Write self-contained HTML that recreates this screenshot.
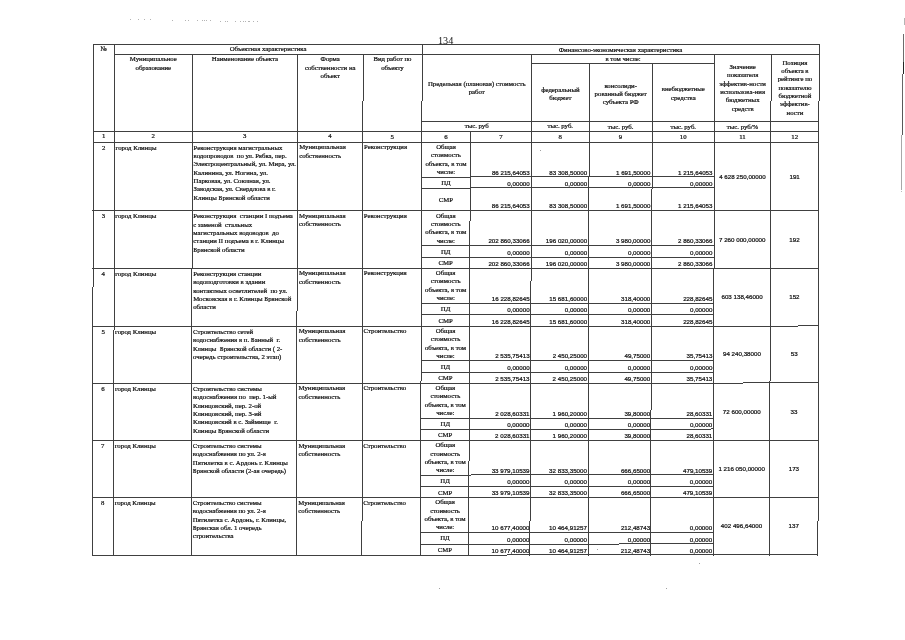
<!DOCTYPE html>
<html lang="ru"><head><meta charset="utf-8"><title>134</title>
<style>
html,body{margin:0;padding:0;background:#fff;}
body{width:905px;height:640px;position:relative;overflow:hidden;}
#w{position:absolute;left:0;top:0;width:905px;height:640px;filter:grayscale(1);}
.l{position:absolute;background:#404040;}
.t{position:absolute;white-space:nowrap;color:#111;-webkit-text-stroke:0.22px #111;line-height:8.35px;}
.s{font-family:"Liberation Serif",serif;font-size:6.78px;}
.n{font-family:"Liberation Sans",sans-serif;font-size:6.2px;line-height:8px;}
#pg{position:absolute;left:438px;top:34.9px;font-family:"Liberation Serif",serif;font-size:10.2px;color:#111;line-height:12px;}
.e{position:absolute;width:1px;}
.d{position:absolute;background:#999;width:1px;height:1px;}
</style></head>
<body>
<div id="w">
<div id="pg">134</div>
<div class="l" style="left:93px;top:44px;width:1px;height:243px"></div>
<div class="l" style="left:92px;top:287px;width:1px;height:269px"></div>
<div class="l" style="left:819px;top:44px;width:1px;height:57px"></div>
<div class="l" style="left:818px;top:101px;width:1px;height:420px"></div>
<div class="l" style="left:817px;top:521px;width:1px;height:35px"></div>
<div class="l" style="left:114px;top:44px;width:1px;height:286px"></div>
<div class="l" style="left:113px;top:330px;width:1px;height:226px"></div>
<div class="l" style="left:192px;top:54px;width:1px;height:215px"></div>
<div class="l" style="left:191px;top:269px;width:1px;height:287px"></div>
<div class="l" style="left:297px;top:54px;width:1px;height:257px"></div>
<div class="l" style="left:296px;top:311px;width:1px;height:245px"></div>
<div class="l" style="left:363px;top:54px;width:1px;height:47px"></div>
<div class="l" style="left:362px;top:101px;width:1px;height:420px"></div>
<div class="l" style="left:361px;top:521px;width:1px;height:35px"></div>
<div class="l" style="left:422px;top:44px;width:1px;height:57px"></div>
<div class="l" style="left:421px;top:101px;width:1px;height:280px"></div>
<div class="l" style="left:420px;top:381px;width:1px;height:175px"></div>
<div class="l" style="left:470px;top:131px;width:1px;height:90px"></div>
<div class="l" style="left:469px;top:221px;width:1px;height:240px"></div>
<div class="l" style="left:468px;top:461px;width:1px;height:95px"></div>
<div class="l" style="left:531px;top:54px;width:1px;height:227px"></div>
<div class="l" style="left:530px;top:281px;width:1px;height:240px"></div>
<div class="l" style="left:529px;top:521px;width:1px;height:35px"></div>
<div class="l" style="left:589px;top:63px;width:1px;height:114px"></div>
<div class="l" style="left:588px;top:177px;width:1px;height:379px"></div>
<div class="l" style="left:652px;top:63px;width:1px;height:126px"></div>
<div class="l" style="left:651px;top:189px;width:1px;height:221px"></div>
<div class="l" style="left:650px;top:410px;width:1px;height:146px"></div>
<div class="l" style="left:714px;top:54px;width:1px;height:215px"></div>
<div class="l" style="left:713px;top:269px;width:1px;height:287px"></div>
<div class="l" style="left:771px;top:54px;width:1px;height:47px"></div>
<div class="l" style="left:770px;top:101px;width:1px;height:280px"></div>
<div class="l" style="left:769px;top:381px;width:1px;height:175px"></div>
<div class="l" style="left:93px;top:44px;width:726px;height:1px"></div>
<div class="l" style="left:114px;top:54px;width:705px;height:1px"></div>
<div class="l" style="left:531px;top:63px;width:184px;height:1px"></div>
<div class="l" style="left:421px;top:121px;width:398px;height:1px"></div>
<div class="l" style="left:93px;top:131px;width:726px;height:1px"></div>
<div class="l" style="left:93px;top:142px;width:726px;height:1px"></div>
<div class="l" style="left:421px;top:177px;width:50px;height:1px"></div>
<div class="l" style="left:471px;top:176px;width:244px;height:1px"></div>
<div class="l" style="left:421px;top:188px;width:50px;height:1px"></div>
<div class="l" style="left:471px;top:187px;width:244px;height:1px"></div>
<div class="l" style="left:92px;top:210px;width:727px;height:1px"></div>
<div class="l" style="left:421px;top:245px;width:293px;height:1px"></div>
<div class="l" style="left:421px;top:257px;width:293px;height:1px"></div>
<div class="l" style="left:92px;top:268px;width:727px;height:1px"></div>
<div class="l" style="left:421px;top:303px;width:293px;height:1px"></div>
<div class="l" style="left:421px;top:314px;width:293px;height:1px"></div>
<div class="l" style="left:92px;top:326px;width:706px;height:1px"></div>
<div class="l" style="left:798px;top:325px;width:21px;height:1px"></div>
<div class="l" style="left:421px;top:360px;width:293px;height:1px"></div>
<div class="l" style="left:421px;top:372px;width:293px;height:1px"></div>
<div class="l" style="left:92px;top:383px;width:651px;height:1px"></div>
<div class="l" style="left:743px;top:382px;width:76px;height:1px"></div>
<div class="l" style="left:421px;top:418px;width:293px;height:1px"></div>
<div class="l" style="left:421px;top:429px;width:290px;height:1px"></div>
<div class="l" style="left:711px;top:428px;width:3px;height:1px"></div>
<div class="l" style="left:92px;top:440px;width:726px;height:1px"></div>
<div class="l" style="left:420px;top:475px;width:51px;height:1px"></div>
<div class="l" style="left:471px;top:474px;width:243px;height:1px"></div>
<div class="l" style="left:420px;top:486px;width:294px;height:1px"></div>
<div class="l" style="left:92px;top:497px;width:726px;height:1px"></div>
<div class="l" style="left:420px;top:532px;width:294px;height:1px"></div>
<div class="l" style="left:420px;top:544px;width:199px;height:1px"></div>
<div class="l" style="left:619px;top:543px;width:95px;height:1px"></div>
<div class="l" style="left:92px;top:555px;width:415px;height:1px"></div>
<div class="l" style="left:507px;top:554px;width:311px;height:1px"></div>
<div class="t s" style="left:93.39px;top:45.43px;width:20.90px;text-align:center;">№</div>
<div class="t s" style="left:114.29px;top:45.43px;width:307.70px;text-align:center;">Объектная характеристика</div>
<div class="t s" style="left:421.99px;top:45.73px;width:397.00px;text-align:center;">Финансово-экономическая характеристика</div>
<div class="t s" style="left:114.26px;top:55.23px;width:78.20px;text-align:center;">Муниципальное<br>образование</div>
<div class="t s" style="left:192.46px;top:55.23px;width:105.00px;text-align:center;">Наименование объекта</div>
<div class="t s" style="left:297.46px;top:55.23px;width:65.50px;text-align:center;">Форма<br>собственности на<br>объект</div>
<div class="t s" style="left:362.96px;top:55.23px;width:59.00px;text-align:center;">Вид работ по<br>объекту</div>
<div class="t s" style="left:421.90px;top:80.15px;width:109.75px;text-align:center;">Предельная (плановая) стоимость<br>работ</div>
<div class="t s" style="left:531.71px;top:54.93px;width:182.75px;text-align:center;">в том числе:</div>
<div class="t s" style="left:531.63px;top:85.65px;width:57.45px;text-align:center;">федеральный<br>бюджет</div>
<div class="t s" style="left:589.09px;top:81.78px;width:63.20px;text-align:center;">консолиди-<br>рованный бюджет<br>субъекта РФ</div>
<div class="t s" style="left:652.28px;top:85.25px;width:62.10px;text-align:center;">внебюджетные<br>средства</div>
<div class="t s" style="left:714.44px;top:63.05px;width:56.50px;text-align:center;">Значение<br>показателя<br>эффектив-ности<br>использова-ния<br>бюджетных<br>средств</div>
<div class="t s" style="left:770.95px;top:58.78px;width:48.00px;text-align:center;">Позиция<br>объекта в<br>рейтинге по<br>показателю<br>бюджетной<br>эффектив-<br>ности</div>
<div class="t s" style="left:421.79px;top:122.22px;width:109.75px;text-align:center;">тыс. руб</div>
<div class="t s" style="left:531.54px;top:122.42px;width:57.45px;text-align:center;">тыс. руб.</div>
<div class="t s" style="left:588.99px;top:122.56px;width:63.20px;text-align:center;">тыс. руб.</div>
<div class="t s" style="left:652.19px;top:122.70px;width:62.10px;text-align:center;">тыс. руб.</div>
<div class="t s" style="left:714.29px;top:122.84px;width:56.50px;text-align:center;">тыс. руб/%</div>
<div class="t s" style="left:93.17px;top:131.87px;width:20.90px;text-align:center;">1</div>
<div class="t s" style="left:114.07px;top:131.98px;width:78.20px;text-align:center;">2</div>
<div class="t s" style="left:192.26px;top:132.19px;width:105.00px;text-align:center;">3</div>
<div class="t s" style="left:297.26px;top:132.39px;width:65.50px;text-align:center;">4</div>
<div class="t s" style="left:362.76px;top:132.53px;width:59.00px;text-align:center;">5</div>
<div class="t s" style="left:421.76px;top:132.65px;width:48.50px;text-align:center;">6</div>
<div class="t s" style="left:470.26px;top:132.78px;width:61.25px;text-align:center;">7</div>
<div class="t s" style="left:531.51px;top:132.92px;width:57.45px;text-align:center;">8</div>
<div class="t s" style="left:588.96px;top:133.06px;width:63.20px;text-align:center;">9</div>
<div class="t s" style="left:652.16px;top:133.20px;width:62.10px;text-align:center;">10</div>
<div class="t s" style="left:714.26px;top:133.34px;width:56.50px;text-align:center;">11</div>
<div class="t s" style="left:770.76px;top:133.46px;width:48.00px;text-align:center;">12</div>
<div class="t s" style="left:93.14px;top:143.70px;width:20.90px;text-align:center;">2</div>
<div class="t s" style="left:115.54px;top:143.70px;width:76.70px;text-align:left;">город Клинцы</div>
<div class="t s" style="left:193.54px;top:143.70px;width:113.70px;text-align:left;">Реконструкция магистральных<br>водопроводов&nbsp; по ул. Рябка, пер.<br>Электроцентральный, ул. Мира, ул.<br>Калинина, ул. Ногина, ул.<br>Парковая, ул. Союзная, ул.<br>Заводская, ул. Свердлова в г.<br>Клинцы Брянской области</div>
<div class="t s" style="left:299.24px;top:143.30px;width:63.50px;text-align:left;">Муниципальная<br>собственность</div>
<div class="t s" style="left:364.04px;top:143.10px;width:57.70px;text-align:left;">Реконструкция</div>
<div class="t s" style="left:421.74px;top:143.00px;width:48.50px;text-align:center;">Общая<br>стоимость<br>объекта, в том<br>числе:</div>
<div class="t s" style="left:421.65px;top:178.62px;width:48.50px;text-align:center;">ПД</div>
<div class="t s" style="left:421.60px;top:195.80px;width:48.50px;text-align:center;">СМР</div>
<div class="t n" style="left:470.40px;top:168.60px;width:59.35px;text-align:right;">86 215,64053</div>
<div class="t n" style="left:470.39px;top:179.60px;width:59.35px;text-align:right;">0,00000</div>
<div class="t n" style="left:470.38px;top:202.35px;width:59.35px;text-align:right;">86 215,64053</div>
<div class="t n" style="left:531.65px;top:168.60px;width:55.55px;text-align:right;">83 308,50000</div>
<div class="t n" style="left:531.64px;top:179.60px;width:55.55px;text-align:right;">0,00000</div>
<div class="t n" style="left:531.63px;top:202.35px;width:55.55px;text-align:right;">83 308,50000</div>
<div class="t n" style="left:589.10px;top:168.60px;width:61.30px;text-align:right;">1 691,50000</div>
<div class="t n" style="left:589.09px;top:179.60px;width:61.30px;text-align:right;">0,00000</div>
<div class="t n" style="left:589.08px;top:202.35px;width:61.30px;text-align:right;">1 691,50000</div>
<div class="t n" style="left:652.30px;top:168.60px;width:60.20px;text-align:right;">1 215,64053</div>
<div class="t n" style="left:652.29px;top:179.60px;width:60.20px;text-align:right;">0,00000</div>
<div class="t n" style="left:652.28px;top:202.35px;width:60.20px;text-align:right;">1 215,64053</div>
<div class="t n" style="left:714.16px;top:172.93px;width:56.50px;text-align:center;">4 628 250,00000</div>
<div class="t n" style="left:770.66px;top:172.93px;width:48.00px;text-align:center;">191</div>
<div class="t s" style="left:92.96px;top:212.35px;width:20.90px;text-align:center;">3</div>
<div class="t s" style="left:115.36px;top:212.35px;width:76.70px;text-align:left;">город Клинцы</div>
<div class="t s" style="left:193.36px;top:212.35px;width:113.70px;text-align:left;">Реконструкция&nbsp; станции I подъема<br>с заменой&nbsp; стальных<br>магистральных водоводов&nbsp; до<br>станции II подъема в г. Клинцы<br>Брянской области</div>
<div class="t s" style="left:299.06px;top:211.95px;width:63.50px;text-align:left;">Муниципальная<br>собственность</div>
<div class="t s" style="left:363.86px;top:211.75px;width:57.70px;text-align:left;">Реконструкция</div>
<div class="t s" style="left:421.56px;top:211.65px;width:48.50px;text-align:center;">Общая<br>стоимость<br>объекта, в том<br>числе:</div>
<div class="t s" style="left:421.47px;top:247.75px;width:48.50px;text-align:center;">ПД</div>
<div class="t s" style="left:421.44px;top:259.30px;width:48.50px;text-align:center;">СМР</div>
<div class="t n" style="left:470.35px;top:237.35px;width:59.35px;text-align:right;">202 860,33066</div>
<div class="t n" style="left:470.34px;top:249.10px;width:59.35px;text-align:right;">0,00000</div>
<div class="t n" style="left:470.33px;top:259.85px;width:59.35px;text-align:right;">202 860,33066</div>
<div class="t n" style="left:531.60px;top:237.35px;width:55.55px;text-align:right;">196 020,00000</div>
<div class="t n" style="left:531.59px;top:249.10px;width:55.55px;text-align:right;">0,00000</div>
<div class="t n" style="left:531.58px;top:259.85px;width:55.55px;text-align:right;">196 020,00000</div>
<div class="t n" style="left:589.05px;top:237.35px;width:61.30px;text-align:right;">3 980,00000</div>
<div class="t n" style="left:589.04px;top:249.10px;width:61.30px;text-align:right;">0,00000</div>
<div class="t n" style="left:589.03px;top:259.85px;width:61.30px;text-align:right;">3 980,00000</div>
<div class="t n" style="left:652.25px;top:237.35px;width:60.20px;text-align:right;">2 860,33066</div>
<div class="t n" style="left:652.24px;top:249.10px;width:60.20px;text-align:right;">0,00000</div>
<div class="t n" style="left:652.23px;top:259.85px;width:60.20px;text-align:right;">2 860,33066</div>
<div class="t n" style="left:714.00px;top:235.80px;width:56.50px;text-align:center;">7 260 000,00000</div>
<div class="t n" style="left:770.50px;top:235.80px;width:48.00px;text-align:center;">192</div>
<div class="t s" style="left:92.81px;top:269.85px;width:20.90px;text-align:center;">4</div>
<div class="t s" style="left:115.21px;top:269.85px;width:76.70px;text-align:left;">город Клинцы</div>
<div class="t s" style="left:193.21px;top:269.85px;width:113.70px;text-align:left;">Реконструкция станции<br>водоподготовки в здании<br>контактных осветлителей&nbsp; по ул.<br>Московская в г. Клинцы Брянской<br>области</div>
<div class="t s" style="left:298.91px;top:269.45px;width:63.50px;text-align:left;">Муниципальная<br>собственность</div>
<div class="t s" style="left:363.72px;top:269.25px;width:57.70px;text-align:left;">Реконструкция</div>
<div class="t s" style="left:421.42px;top:269.15px;width:48.50px;text-align:center;">Общая<br>стоимость<br>объекта, в том<br>числе:</div>
<div class="t s" style="left:421.32px;top:305.00px;width:48.50px;text-align:center;">ПД</div>
<div class="t s" style="left:421.29px;top:316.80px;width:48.50px;text-align:center;">СМР</div>
<div class="t n" style="left:470.31px;top:294.85px;width:59.35px;text-align:right;">16 228,82645</div>
<div class="t n" style="left:470.30px;top:306.10px;width:59.35px;text-align:right;">0,00000</div>
<div class="t n" style="left:470.29px;top:317.85px;width:59.35px;text-align:right;">16 228,82645</div>
<div class="t n" style="left:531.56px;top:294.85px;width:55.55px;text-align:right;">15 681,60000</div>
<div class="t n" style="left:531.55px;top:306.10px;width:55.55px;text-align:right;">0,00000</div>
<div class="t n" style="left:531.54px;top:317.85px;width:55.55px;text-align:right;">15 681,60000</div>
<div class="t n" style="left:589.01px;top:294.85px;width:61.30px;text-align:right;">318,40000</div>
<div class="t n" style="left:589.00px;top:306.10px;width:61.30px;text-align:right;">0,00000</div>
<div class="t n" style="left:588.99px;top:317.85px;width:61.30px;text-align:right;">318,40000</div>
<div class="t n" style="left:652.21px;top:294.85px;width:60.20px;text-align:right;">228,82645</div>
<div class="t n" style="left:652.20px;top:306.10px;width:60.20px;text-align:right;">0,00000</div>
<div class="t n" style="left:652.19px;top:317.85px;width:60.20px;text-align:right;">228,82645</div>
<div class="t n" style="left:713.86px;top:292.85px;width:56.50px;text-align:center;">603 138,46000</div>
<div class="t n" style="left:770.36px;top:292.85px;width:48.00px;text-align:center;">152</div>
<div class="t s" style="left:92.67px;top:327.85px;width:20.90px;text-align:center;">5</div>
<div class="t s" style="left:115.07px;top:327.85px;width:76.70px;text-align:left;">город Клинцы</div>
<div class="t s" style="left:193.07px;top:327.85px;width:113.70px;text-align:left;">Строительство сетей<br>водоснабжения в п. Банный&nbsp; г.<br>Клинцы&nbsp; Брянской области ( 2-<br>очередь строительства, 2 этап)</div>
<div class="t s" style="left:298.77px;top:327.45px;width:63.50px;text-align:left;">Муниципальная<br>собственность</div>
<div class="t s" style="left:363.57px;top:327.25px;width:57.70px;text-align:left;">Строительство</div>
<div class="t s" style="left:421.27px;top:327.15px;width:48.50px;text-align:center;">Общая<br>стоимость<br>объекта, в том<br>числе:</div>
<div class="t s" style="left:421.18px;top:362.75px;width:48.50px;text-align:center;">ПД</div>
<div class="t s" style="left:421.15px;top:374.30px;width:48.50px;text-align:center;">СМР</div>
<div class="t n" style="left:470.26px;top:352.35px;width:59.35px;text-align:right;">2 535,75413</div>
<div class="t n" style="left:470.25px;top:364.10px;width:59.35px;text-align:right;">0,00000</div>
<div class="t n" style="left:470.24px;top:374.85px;width:59.35px;text-align:right;">2 535,75413</div>
<div class="t n" style="left:531.51px;top:352.35px;width:55.55px;text-align:right;">2 450,25000</div>
<div class="t n" style="left:531.50px;top:364.10px;width:55.55px;text-align:right;">0,00000</div>
<div class="t n" style="left:531.49px;top:374.85px;width:55.55px;text-align:right;">2 450,25000</div>
<div class="t n" style="left:588.96px;top:352.35px;width:61.30px;text-align:right;">49,75000</div>
<div class="t n" style="left:588.95px;top:364.10px;width:61.30px;text-align:right;">0,00000</div>
<div class="t n" style="left:588.94px;top:374.85px;width:61.30px;text-align:right;">49,75000</div>
<div class="t n" style="left:652.16px;top:352.35px;width:60.20px;text-align:right;">35,75413</div>
<div class="t n" style="left:652.15px;top:364.10px;width:60.20px;text-align:right;">0,00000</div>
<div class="t n" style="left:652.14px;top:374.85px;width:60.20px;text-align:right;">35,75413</div>
<div class="t n" style="left:713.71px;top:350.35px;width:56.50px;text-align:center;">94 240,38000</div>
<div class="t n" style="left:770.21px;top:350.35px;width:48.00px;text-align:center;">53</div>
<div class="t s" style="left:92.52px;top:384.85px;width:20.90px;text-align:center;">6</div>
<div class="t s" style="left:114.92px;top:384.85px;width:76.70px;text-align:left;">город Клинцы</div>
<div class="t s" style="left:192.92px;top:384.85px;width:113.70px;text-align:left;">Строительство системы<br>водоснабжения по&nbsp; пер. 1-ый<br>Клинцовский, пер. 2-ой<br>Клинцовский, пер. 3-ий<br>Клинцовский в с. Займище&nbsp; г.<br>Клинцы Брянской области</div>
<div class="t s" style="left:298.62px;top:384.45px;width:63.50px;text-align:left;">Муниципальная<br>собственность</div>
<div class="t s" style="left:363.42px;top:384.25px;width:57.70px;text-align:left;">Строительство</div>
<div class="t s" style="left:421.12px;top:384.15px;width:48.50px;text-align:center;">Общая<br>стоимость<br>объекта, в том<br>числе:</div>
<div class="t s" style="left:421.03px;top:419.88px;width:48.50px;text-align:center;">ПД</div>
<div class="t s" style="left:421.00px;top:431.30px;width:48.50px;text-align:center;">СМР</div>
<div class="t n" style="left:470.22px;top:409.85px;width:59.35px;text-align:right;">2 028,60331</div>
<div class="t n" style="left:470.21px;top:420.85px;width:59.35px;text-align:right;">0,00000</div>
<div class="t n" style="left:470.20px;top:432.10px;width:59.35px;text-align:right;">2 028,60331</div>
<div class="t n" style="left:531.47px;top:409.85px;width:55.55px;text-align:right;">1 960,20000</div>
<div class="t n" style="left:531.46px;top:420.85px;width:55.55px;text-align:right;">0,00000</div>
<div class="t n" style="left:531.45px;top:432.10px;width:55.55px;text-align:right;">1 960,20000</div>
<div class="t n" style="left:588.92px;top:409.85px;width:61.30px;text-align:right;">39,80000</div>
<div class="t n" style="left:588.91px;top:420.85px;width:61.30px;text-align:right;">0,00000</div>
<div class="t n" style="left:588.90px;top:432.10px;width:61.30px;text-align:right;">39,80000</div>
<div class="t n" style="left:652.12px;top:409.85px;width:60.20px;text-align:right;">28,60331</div>
<div class="t n" style="left:652.11px;top:420.85px;width:60.20px;text-align:right;">0,00000</div>
<div class="t n" style="left:652.10px;top:432.10px;width:60.20px;text-align:right;">28,60331</div>
<div class="t n" style="left:713.56px;top:407.78px;width:56.50px;text-align:center;">72 600,00000</div>
<div class="t n" style="left:770.06px;top:407.78px;width:48.00px;text-align:center;">33</div>
<div class="t s" style="left:92.37px;top:442.10px;width:20.90px;text-align:center;">7</div>
<div class="t s" style="left:114.77px;top:442.10px;width:76.70px;text-align:left;">город Клинцы</div>
<div class="t s" style="left:192.77px;top:442.10px;width:113.70px;text-align:left;">Строительство системы<br>водоснабжения по ул. 2-я<br>Пятилетка в с. Ардонь г. Клинцы<br>Брянской области (2-ая очередь)</div>
<div class="t s" style="left:298.48px;top:441.70px;width:63.50px;text-align:left;">Муниципальная<br>собственность</div>
<div class="t s" style="left:363.28px;top:441.50px;width:57.70px;text-align:left;">Строительство</div>
<div class="t s" style="left:420.98px;top:441.40px;width:48.50px;text-align:center;">Общая<br>стоимость<br>объекта, в том<br>числе:</div>
<div class="t s" style="left:420.89px;top:477.00px;width:48.50px;text-align:center;">ПД</div>
<div class="t s" style="left:420.86px;top:488.55px;width:48.50px;text-align:center;">СМР</div>
<div class="t n" style="left:470.17px;top:466.60px;width:59.35px;text-align:right;">33 979,10539</div>
<div class="t n" style="left:470.16px;top:478.35px;width:59.35px;text-align:right;">0,00000</div>
<div class="t n" style="left:470.16px;top:489.10px;width:59.35px;text-align:right;">33 979,10539</div>
<div class="t n" style="left:531.42px;top:466.60px;width:55.55px;text-align:right;">32 833,35000</div>
<div class="t n" style="left:531.41px;top:478.35px;width:55.55px;text-align:right;">0,00000</div>
<div class="t n" style="left:531.41px;top:489.10px;width:55.55px;text-align:right;">32 833,35000</div>
<div class="t n" style="left:588.87px;top:466.60px;width:61.30px;text-align:right;">666,65000</div>
<div class="t n" style="left:588.86px;top:478.35px;width:61.30px;text-align:right;">0,00000</div>
<div class="t n" style="left:588.86px;top:489.10px;width:61.30px;text-align:right;">666,65000</div>
<div class="t n" style="left:652.07px;top:466.60px;width:60.20px;text-align:right;">479,10539</div>
<div class="t n" style="left:652.06px;top:478.35px;width:60.20px;text-align:right;">0,00000</div>
<div class="t n" style="left:652.06px;top:489.10px;width:60.20px;text-align:right;">479,10539</div>
<div class="t n" style="left:713.42px;top:464.60px;width:56.50px;text-align:center;">1 216 050,00000</div>
<div class="t n" style="left:769.92px;top:464.60px;width:48.00px;text-align:center;">173</div>
<div class="t s" style="left:92.23px;top:499.10px;width:20.90px;text-align:center;">8</div>
<div class="t s" style="left:114.63px;top:499.10px;width:76.70px;text-align:left;">город Клинцы</div>
<div class="t s" style="left:192.63px;top:499.10px;width:113.70px;text-align:left;">Строительство системы<br>водоснабжения по ул. 2-я<br>Пятилетка с. Ардонь, г. Клинцы,<br>Брянская обл. 1 очередь<br>строительства</div>
<div class="t s" style="left:298.33px;top:498.70px;width:63.50px;text-align:left;">Муниципальная<br>собственность</div>
<div class="t s" style="left:363.13px;top:498.50px;width:57.70px;text-align:left;">Строительство</div>
<div class="t s" style="left:420.83px;top:498.40px;width:48.50px;text-align:center;">Общая<br>стоимость<br>объекта, в том<br>числе:</div>
<div class="t s" style="left:420.74px;top:534.42px;width:48.50px;text-align:center;">ПД</div>
<div class="t s" style="left:420.71px;top:546.05px;width:48.50px;text-align:center;">СМР</div>
<div class="t n" style="left:470.13px;top:524.00px;width:59.35px;text-align:right;">10 677,40000</div>
<div class="t n" style="left:470.12px;top:535.80px;width:59.35px;text-align:right;">0,00000</div>
<div class="t n" style="left:470.11px;top:546.65px;width:59.35px;text-align:right;">10 677,40000</div>
<div class="t n" style="left:531.38px;top:524.00px;width:55.55px;text-align:right;">10 464,91257</div>
<div class="t n" style="left:531.37px;top:535.80px;width:55.55px;text-align:right;">0,00000</div>
<div class="t n" style="left:531.36px;top:546.65px;width:55.55px;text-align:right;">10 464,91257</div>
<div class="t n" style="left:588.83px;top:524.00px;width:61.30px;text-align:right;">212,48743</div>
<div class="t n" style="left:588.82px;top:535.80px;width:61.30px;text-align:right;">0,00000</div>
<div class="t n" style="left:588.81px;top:546.65px;width:61.30px;text-align:right;">212,48743</div>
<div class="t n" style="left:652.03px;top:524.00px;width:60.20px;text-align:right;">0,00000</div>
<div class="t n" style="left:652.02px;top:535.80px;width:60.20px;text-align:right;">0,00000</div>
<div class="t n" style="left:652.01px;top:546.65px;width:60.20px;text-align:right;">0,00000</div>
<div class="t n" style="left:713.27px;top:521.88px;width:56.50px;text-align:center;">402 496,64000</div>
<div class="t n" style="left:769.77px;top:521.88px;width:48.00px;text-align:center;">137</div>
</div>
<div class="d" style="left:130px;top:19px;background:#b4b4b4"></div>
<div class="d" style="left:138px;top:19px;background:#b4b4b4"></div>
<div class="d" style="left:144px;top:19px;background:#b4b4b4"></div>
<div class="d" style="left:150px;top:19px;background:#b4b4b4"></div>
<div class="d" style="left:172px;top:20px;background:#b4b4b4"></div>
<div class="d" style="left:185px;top:20px;background:#b4b4b4"></div>
<div class="d" style="left:188px;top:20px;background:#b4b4b4"></div>
<div class="d" style="left:197px;top:20px;background:#b4b4b4"></div>
<div class="d" style="left:202px;top:20px;background:#b4b4b4"></div>
<div class="d" style="left:204px;top:20px;background:#b4b4b4"></div>
<div class="d" style="left:206px;top:20px;background:#b4b4b4"></div>
<div class="d" style="left:210px;top:20px;background:#b4b4b4"></div>
<div class="d" style="left:220px;top:21px;background:#b4b4b4"></div>
<div class="d" style="left:225px;top:21px;background:#b4b4b4"></div>
<div class="d" style="left:227px;top:21px;background:#b4b4b4"></div>
<div class="d" style="left:235px;top:21px;background:#b4b4b4"></div>
<div class="d" style="left:240px;top:21px;background:#b4b4b4"></div>
<div class="d" style="left:243px;top:21px;background:#b4b4b4"></div>
<div class="d" style="left:245px;top:21px;background:#b4b4b4"></div>
<div class="d" style="left:248px;top:21px;background:#b4b4b4"></div>
<div class="d" style="left:249px;top:21px;background:#b4b4b4"></div>
<div class="d" style="left:253px;top:21px;background:#b4b4b4"></div>
<div class="d" style="left:257px;top:21px;background:#b4b4b4"></div>
<div class="d" style="left:540px;top:150px;background:#a0a0a0"></div>
<div class="d" style="left:597px;top:549px;background:#a0a0a0"></div>
<div class="d" style="left:699px;top:563px;background:#a0a0a0"></div>
<div class="d" style="left:666px;top:588px;background:#a0a0a0"></div>
<div class="d" style="left:439px;top:588px;background:#a0a0a0"></div>
<div class="e" style="left:904px;top:18px;height:7px;background:#b4b4b4"></div><div class="e" style="left:903px;top:34px;height:28px;background:#6c6c6c"></div><div class="e" style="left:903px;top:62px;height:12px;background:#262626"></div><div class="e" style="left:902px;top:74px;height:26px;background:#666"></div><div class="e" style="left:902px;top:100px;height:35px;background:#585858"></div><div class="e" style="left:901px;top:135px;height:55px;background:#a8a8a8"></div><div class="e" style="left:901px;top:191px;height:1px;background:#bbb"></div>
</body></html>
